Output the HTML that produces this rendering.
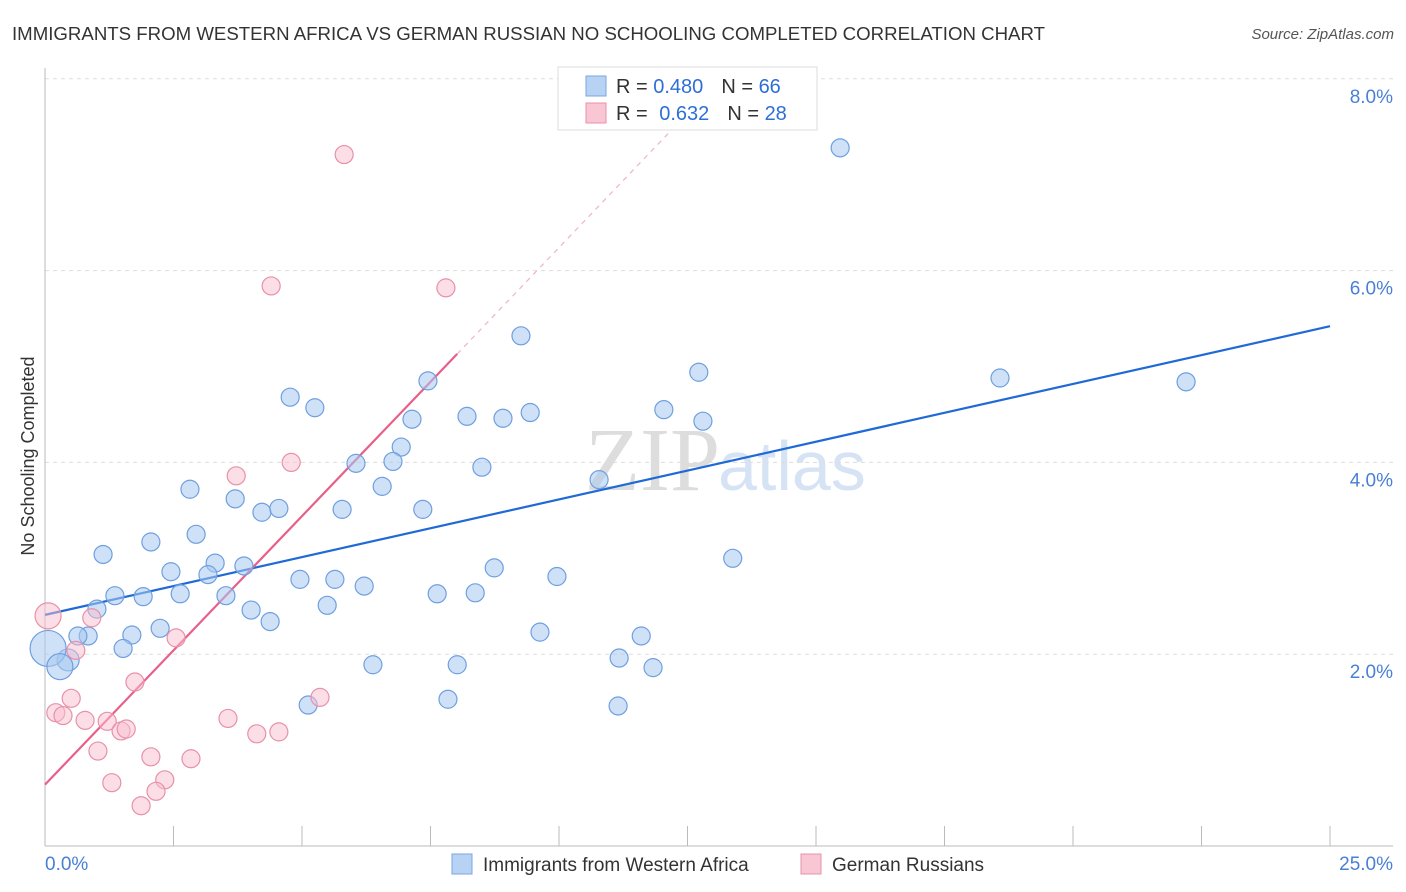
<!DOCTYPE html>
<html><head><meta charset="utf-8">
<style>
body{margin:0;background:#fff;font-family:"Liberation Sans",sans-serif;}
svg{display:block}
</style></head>
<body>
<svg id="chart" width="1406" height="892">
<text x="12" y="40" font-size="18" fill="#333" textLength="1033" lengthAdjust="spacingAndGlyphs">IMMIGRANTS FROM WESTERN AFRICA VS GERMAN RUSSIAN NO SCHOOLING COMPLETED CORRELATION CHART</text>
<text x="1394" y="39" font-size="15" fill="#555" font-style="italic" text-anchor="end">Source: ZipAtlas.com</text>
<text x="720" y="490" font-size="90" fill="#ddd" text-anchor="end" font-family="Liberation Serif">ZIP</text>
<text x="718" y="490" font-size="70" fill="#d6e3f5">atlas</text>
<g id="grid"></g>
<g id="axes"></g>
<g id="lines"></g>
<g id="points"></g>
<text transform="translate(34,456) rotate(-90)" font-size="18" fill="#333" text-anchor="middle">No Schooling Completed</text>
<g>
<rect x="558" y="67" width="259" height="63" fill="#fff" stroke="#ddd"/>
<rect x="586" y="76" width="20" height="20" fill="#b8d2f3" stroke="#7aa6e0"/>
<rect x="586" y="103" width="20" height="20" fill="#f9c6d4" stroke="#e891a8"/>
<text x="616" y="93" font-size="20" fill="#333">R = <tspan fill="#2e6fd6">0.480</tspan><tspan dx="18">N = </tspan><tspan fill="#2e6fd6">66</tspan></text>
<text x="616" y="120" font-size="20" fill="#333">R = <tspan dx="6" fill="#2e6fd6">0.632</tspan><tspan dx="18">N = </tspan><tspan fill="#2e6fd6">28</tspan></text>
</g>
<g>
<rect x="452" y="854" width="20" height="20" fill="#b8d2f3" stroke="#7aa6e0"/>
<text x="483" y="871" font-size="19" fill="#333">Immigrants from Western Africa</text>
<rect x="801" y="854" width="20" height="20" fill="#f9c6d4" stroke="#e891a8"/>
<text x="832" y="871" font-size="19" fill="#333">German Russians</text>
</g>
<text x="45" y="870" font-size="19" fill="#4a7fd6">0.0%</text>
<text x="1393" y="870" font-size="19" fill="#4a7fd6" text-anchor="end">25.0%</text>
</svg>
<script>
const blueX=[15.47,9.26,12.72,18.58,22.20,7.45,4.77,5.25,8.21,8.91,9.44,12.04,12.80,7.14,6.93,6.05,6.77,8.50,10.78,6.56,2.82,3.70,5.78,7.35,4.22,4.55,2.94,2.06,1.13,13.38,3.31,3.87,2.45,3.17,8.74,9.96,4.96,5.64,6.21,1.36,1.91,2.63,3.52,7.63,8.37,1.01,4.01,5.49,4.38,2.24,1.69,0.84,0.64,9.63,11.60,1.52,0.45,11.17,6.38,8.02,11.83,0.06,0.29,5.12,7.84,11.15];
const blueY=[7.28,5.32,4.94,4.88,4.84,4.85,4.68,4.57,4.48,4.46,4.52,4.55,4.43,4.45,4.16,3.99,4.01,3.95,3.82,3.75,3.72,3.62,3.51,3.51,3.48,3.52,3.25,3.17,3.04,3.00,2.95,2.92,2.86,2.83,2.90,2.81,2.78,2.78,2.71,2.61,2.60,2.63,2.61,2.63,2.64,2.47,2.46,2.51,2.34,2.27,2.20,2.19,2.19,2.23,2.19,2.06,1.94,1.96,1.89,1.89,1.86,2.06,1.87,1.47,1.53,1.46];
const blueR=[9,9,9,9,9,9,9,9,9,9,9,9,9,9,9,9,9,9,9,9,9,9,9,9,9,9,9,9,9,9,9,9,9,9,9,9,9,9,9,9,9,9,9,9,9,9,9,9,9,9,9,9,9,9,9,9,11,9,9,9,9,18,13,9,9,9];
const pinkX=[5.82,4.40,7.80,3.72,4.79,0.06,0.91,2.55,0.60,0.51,5.35,0.21,0.35,0.78,1.21,1.75,1.48,1.58,3.56,4.12,4.55,1.03,2.06,2.84,1.30,2.33,2.16,1.87];
const pinkY=[7.21,5.84,5.82,3.86,4.00,2.40,2.38,2.17,2.04,1.54,1.55,1.39,1.36,1.31,1.30,1.71,1.20,1.22,1.33,1.17,1.19,0.99,0.93,0.91,0.66,0.69,0.57,0.42];
const pinkR=[9,9,9,9,9,13,9,9,9,9,9,9,9,9,9,9,9,9,9,9,9,9,9,9,9,9,9,9];
const blueTrend=[2.41,5.42];
const pinkTrend=[0.64,0.56];
const pinkSolidEnd=8.02, pinkDashEnd=12.35;
const yTicks=[2,4,6,8];
const yTickLabels=["2.0%","4.0%","6.0%","8.0%"];
const xTicks=[0,2.5,5,7.5,10,12.5,15,17.5,20,22.5,25];

const NS="http://www.w3.org/2000/svg";
const X=v=>45+v/25*1285;
const Y=v=>846-v*95.9;
function mk(tag,attrs,parent){const e=document.createElementNS(NS,tag);for(const k in attrs)e.setAttribute(k,attrs[k]);document.getElementById(parent).appendChild(e);return e;}
yTicks.forEach((t,i)=>{
 const l=mk('line',{x1:45,x2:1393,y1:Y(t),y2:Y(t),stroke:'#ddd','stroke-dasharray':'4,4'},'grid');
 
 
 const tx=mk('text',{x:1393,y:Y(t)+24,'font-size':19,fill:'#4a7fd6','text-anchor':'end'},'grid');
 tx.textContent=yTickLabels[i];
 
 
});
const ax=mk('line',{x1:45,x2:45,y1:68,y2:846,stroke:'#bbb'},'axes');


const bx=mk('line',{x1:45,x2:1393,y1:846,y2:846,stroke:'#bbb'},'axes');


xTicks.forEach(t=>{
 const l=mk('line',{x1:X(t),x2:X(t),y1:826,y2:846,stroke:'#bbb'},'axes');
 
 
});
blueX.forEach((v,i)=>{
 const c=mk('circle',{cx:X(v),cy:Y(blueY[i]),r:blueR[i],fill:'rgba(168,200,240,0.55)',stroke:'#6f9fe0','stroke-width':1.2},'points');
 
 
});
pinkX.forEach((v,i)=>{
 const c=mk('circle',{cx:X(v),cy:Y(pinkY[i]),r:pinkR[i],fill:'rgba(249,190,208,0.5)',stroke:'#e891a8','stroke-width':1.2},'points');
 
 
});
const bl=mk('line',{x1:X(0),y1:Y(blueTrend[0]),x2:X(25),y2:Y(blueTrend[1]),stroke:'#1f6ad6','stroke-width':2.2},'lines');


const pf=x=>pinkTrend[0]+pinkTrend[1]*x;
const pl=mk('line',{x1:X(0),y1:Y(pf(0)),x2:X(pinkSolidEnd),y2:Y(pf(pinkSolidEnd)),stroke:'#e8608a','stroke-width':2.2},'lines');


const pd=mk('line',{x1:X(pinkSolidEnd),y1:Y(pf(pinkSolidEnd)),x2:X(pinkDashEnd),y2:Y(pf(pinkDashEnd)),stroke:'#f0b3c4','stroke-width':1.2,'stroke-dasharray':'5,5'},'lines');


</script>
</body></html>
